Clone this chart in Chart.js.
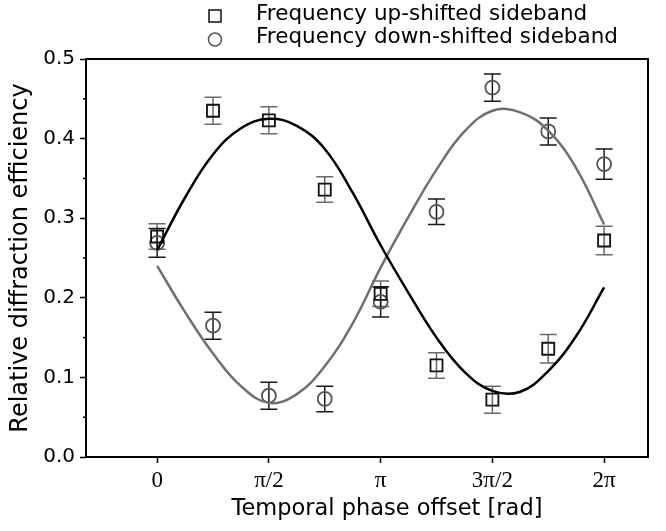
<!DOCTYPE html>
<html>
<head>
<meta charset="utf-8">
<script src="https://cdn.jsdelivr.net/npm/chart.js@4"></script>
<style>
  html, body { margin: 0; padding: 0; background: #fff; }
  #wrap { width: 666px; height: 531px; }
</style>
</head>
<body>
<div id="wrap"><canvas id="myChart"></canvas></div>
<script>
// phase values are in units of pi
var phaseSteps = [0, 0.25, 0.5, 0.75, 1, 1.25, 1.5, 1.75, 2];
var upShifted = [0.277, 0.435, 0.423, 0.336, 0.205, 0.115, 0.072, 0.136, 0.272];
var upErr = [0.016, 0.017, 0.017, 0.016, 0.016, 0.016, 0.017, 0.018, 0.018];
var downShifted = [0.269, 0.165, 0.077, 0.073, 0.195, 0.308, 0.464, 0.409, 0.368];
var downErr = [0.018, 0.017, 0.017, 0.016, 0.019, 0.016, 0.017, 0.017, 0.019];

// fitted curves, every pi/8
var fitSteps = [0, 0.125, 0.25, 0.375, 0.5, 0.625, 0.75, 0.875, 1, 1.125, 1.25, 1.375, 1.5, 1.625, 1.75, 1.875, 2];
var upFit = [0.260, 0.326, 0.380, 0.413, 0.425, 0.416, 0.387, 0.332, 0.266, 0.206, 0.150, 0.107, 0.083, 0.082, 0.108, 0.152, 0.213];
var downFit = [0.240, 0.182, 0.130, 0.089, 0.068, 0.079, 0.114, 0.168, 0.238, 0.302, 0.361, 0.409, 0.435, 0.433, 0.410, 0.363, 0.292];

var tickSteps = [0, 0.5, 1, 1.5, 2];
var tickLabels = ['0', 'π/2', 'π', '3π/2', '2π'];
var xTitle = 'Temporal phase offset [rad]';

var sansFont = '"DejaVu Sans", "Liberation Sans", Arial, sans-serif';

function toPoints(xs, ys) {
    return xs.map(function (x, i) { return { x: x * Math.PI, y: ys[i] }; });
}

var legendItems = [
    { label: 'Frequency up-shifted sideband', style: 'rect', color: '#111' },
    { label: 'Frequency down-shifted sideband', style: 'circle', color: '#555' }
];

var extras = {
    id: 'extras',
    beforeDatasetsDraw: function (chart) {
        var c = chart.ctx, xs = chart.scales.x, ys = chart.scales.y;
        function bars(vals, errs, color) {
            c.save();
            c.strokeStyle = color;
            c.lineWidth = 1.5;
            phaseSteps.forEach(function (p, i) {
                var x = xs.getPixelForValue(p * Math.PI);
                var y1 = ys.getPixelForValue(vals[i] + errs[i]);
                var y2 = ys.getPixelForValue(vals[i] - errs[i]);
                c.beginPath();
                c.moveTo(x, y1); c.lineTo(x, y2);
                c.moveTo(x - 8.5, y1); c.lineTo(x + 8.5, y1);
                c.moveTo(x - 8.5, y2); c.lineTo(x + 8.5, y2);
                c.stroke();
            });
            c.restore();
        }
        bars(upShifted, upErr, '#6a6a6a');
        bars(downShifted, downErr, '#1a1a1a');
    },
    afterDraw: function (chart) {
        var c = chart.ctx, a = chart.chartArea, ys = chart.scales.y;
        c.save();
        // frame
        c.strokeStyle = '#000';
        c.lineWidth = 2;
        c.strokeRect(a.left, a.top, a.right - a.left, a.bottom - a.top);
        // minor y ticks
        c.lineWidth = 1.5;
        for (var k = 0; k < 5; k++) {
            var y = ys.getPixelForValue(0.05 + k * 0.1);
            c.beginPath();
            c.moveTo(a.left - 3, y); c.lineTo(a.left, y);
            c.stroke();
        }
        // x axis title, sits a little right of the plot centre in the original
        c.fillStyle = '#000';
        c.font = '22.5px ' + sansFont;
        c.textAlign = 'center';
        c.textBaseline = 'middle';
        c.fillText(xTitle, (a.left + a.right) / 2 + 20, 509);
        // legend
        c.font = '21.5px ' + sansFont;
        c.textAlign = 'left';
        legendItems.forEach(function (it, i) {
            var y = 16 + i * 23.5;
            c.strokeStyle = it.color;
            c.lineWidth = 1.5;
            c.beginPath();
            if (it.style === 'rect') c.rect(209, y - 6, 12, 12);
            else c.arc(215, y, 6.5, 0, Math.PI * 2);
            c.stroke();
            c.fillText(it.label, 256, y - 2);
        });
        c.restore();
    }
};

var ctx = document.getElementById('myChart').getContext('2d');
var myChart = new Chart(ctx, {
    type: 'scatter',
    data: {
        datasets: [{
            label: 'up fit',
            data: toPoints(fitSteps, upFit),
            showLine: true,
            borderColor: '#000',
            borderWidth: 2.5,
            pointRadius: 0,
            tension: 0.4
        }, {
            label: 'down fit',
            data: toPoints(fitSteps, downFit),
            showLine: true,
            borderColor: '#707070',
            borderWidth: 2.5,
            pointRadius: 0,
            tension: 0.4
        }, {
            label: legendItems[0].label,
            data: toPoints(phaseSteps, upShifted),
            pointStyle: 'rect',
            pointRadius: 8.5,
            borderColor: '#111',
            borderWidth: 1.8,
            backgroundColor: 'rgba(0,0,0,0)'
        }, {
            label: legendItems[1].label,
            data: toPoints(phaseSteps, downShifted),
            pointStyle: 'circle',
            pointRadius: 7,
            borderColor: '#555',
            borderWidth: 1.8,
            backgroundColor: 'rgba(0,0,0,0)'
        }]
    },
    options: {
        responsive: true,
        maintainAspectRatio: false,
        animation: false,
        layout: { padding: { top: 59, right: 18, left: 0, bottom: 0 } },
        plugins: { legend: { display: false }, tooltip: { enabled: false } },
        scales: {
            x: {
                type: 'linear',
                min: -1,
                max: 6.9,
                afterFit: function (s) { s.height = 74; },
                afterBuildTicks: function (s) {
                    s.ticks = tickSteps.map(function (t) { return { value: t * Math.PI }; });
                },
                ticks: {
                    autoSkip: false,
                    maxRotation: 0,
                    padding: 4,
                    color: '#000',
                    font: { family: '"Liberation Serif", "Times New Roman", serif', size: 23 },
                    callback: function (v, i) { return tickLabels[i]; }
                },
                grid: { drawOnChartArea: false, tickLength: 6, tickWidth: 1.5, tickColor: '#000' },
                border: { display: false }
            },
            y: {
                min: 0,
                max: 0.5,
                afterFit: function (s) { s.width = 86; },
                ticks: {
                    stepSize: 0.1,
                    padding: 5,
                    color: '#000',
                    font: { family: sansFont, size: 20 },
                    callback: function (v) { return v.toFixed(1); }
                },
                grid: { drawOnChartArea: false, tickLength: 6, tickWidth: 1.5, tickColor: '#000' },
                border: { display: false },
                title: {
                    display: true,
                    text: 'Relative diffraction efficiency',
                    color: '#000',
                    padding: { top: 6, bottom: 0 },
                    font: { family: sansFont, size: 24 }
                }
            }
        }
    },
    plugins: [extras]
});
</script>
</body>
</html>
